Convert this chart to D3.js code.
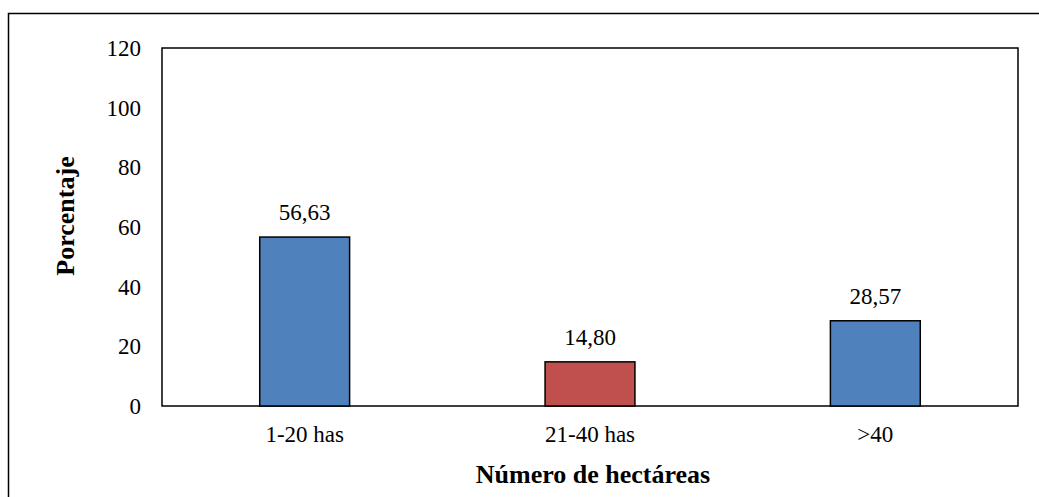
<!DOCTYPE html>
<html><head><meta charset="utf-8">
<script src="https://cdn.jsdelivr.net/npm/d3@7"></script>
<style>body{margin:0;background:#fff}svg{display:block}
svg text{font-family:"Liberation Serif","Times New Roman",Tinos,Times,"DejaVu Serif",serif;}</style>
</head><body>
<script>
const categories = ["1-20 has", "21-40 has", ">40"];
const values = [56.63, 14.80, 28.57];
const labels = ["56,63", "14,80", "28,57"];
const colors = ["#4F81BD", "#C0504D", "#4F81BD"];
const yTicks = [0, 20, 40, 60, 80, 100, 120];

const W = 1039, H = 497;
const m = {left: 162, top: 48, right: 1018, bottom: 406};
const svg = d3.select("body").append("svg").attr("width", W).attr("height", H);

svg.append("rect").attr("x", 8.5).attr("y", 13.5).attr("width", 1100).attr("height", 600)
  .attr("fill", "#fff").attr("stroke", "#000").attr("stroke-width", 1.5);

const x = d3.scaleBand().domain(categories).range([m.left, m.right]).paddingInner(0.685).paddingOuter(0.3425);
const y = d3.scaleLinear().domain([0, 120]).range([m.bottom, m.top]);

svg.append("rect").attr("x", m.left).attr("y", m.top).attr("width", m.right - m.left).attr("height", m.bottom - m.top)
  .attr("fill", "none").attr("stroke", "#000").attr("stroke-width", 1.5);

svg.selectAll("rect.bar").data(values).join("rect").attr("class", "bar")
  .attr("x", (d, i) => x(categories[i])).attr("width", x.bandwidth())
  .attr("y", d => y(d)).attr("height", d => y(0) - y(d))
  .attr("fill", (d, i) => colors[i]).attr("stroke", "#000").attr("stroke-width", 1.5);

svg.selectAll("text.val").data(values).join("text").attr("class", "val")
  .attr("x", (d, i) => x(categories[i]) + x.bandwidth() / 2).attr("y", d => y(d) - 17)
  .attr("text-anchor", "middle").style("font-size", "23px")
  .text((d, i) => labels[i]);

const yAxis = d3.axisLeft(y).tickValues(yTicks).tickSize(0).tickPadding(21);
const gy = svg.append("g").attr("transform", `translate(${m.left},0)`).call(yAxis);
gy.attr("font-family", null).attr("font-size", null);
gy.select(".domain").remove();
gy.selectAll("text").style("font-size", "23px").attr("fill", "#000");

const xAxis = d3.axisBottom(x).tickSize(0).tickPadding(20);
const gx = svg.append("g").attr("transform", `translate(0,${m.bottom})`).call(xAxis);
gx.attr("font-family", null).attr("font-size", null);
gx.select(".domain").remove();
gx.selectAll("text").style("font-size", "23px").attr("fill", "#000");

svg.append("text").attr("x", 593).attr("y", 483).attr("text-anchor", "middle")
  .style("font-size", "26px").style("font-weight", "bold").text("Número de hectáreas");
svg.append("text").attr("transform", "translate(74,216) rotate(-90)").attr("text-anchor", "middle")
  .style("font-size", "26px").style("font-weight", "bold").text("Porcentaje");
</script>
</body></html>
